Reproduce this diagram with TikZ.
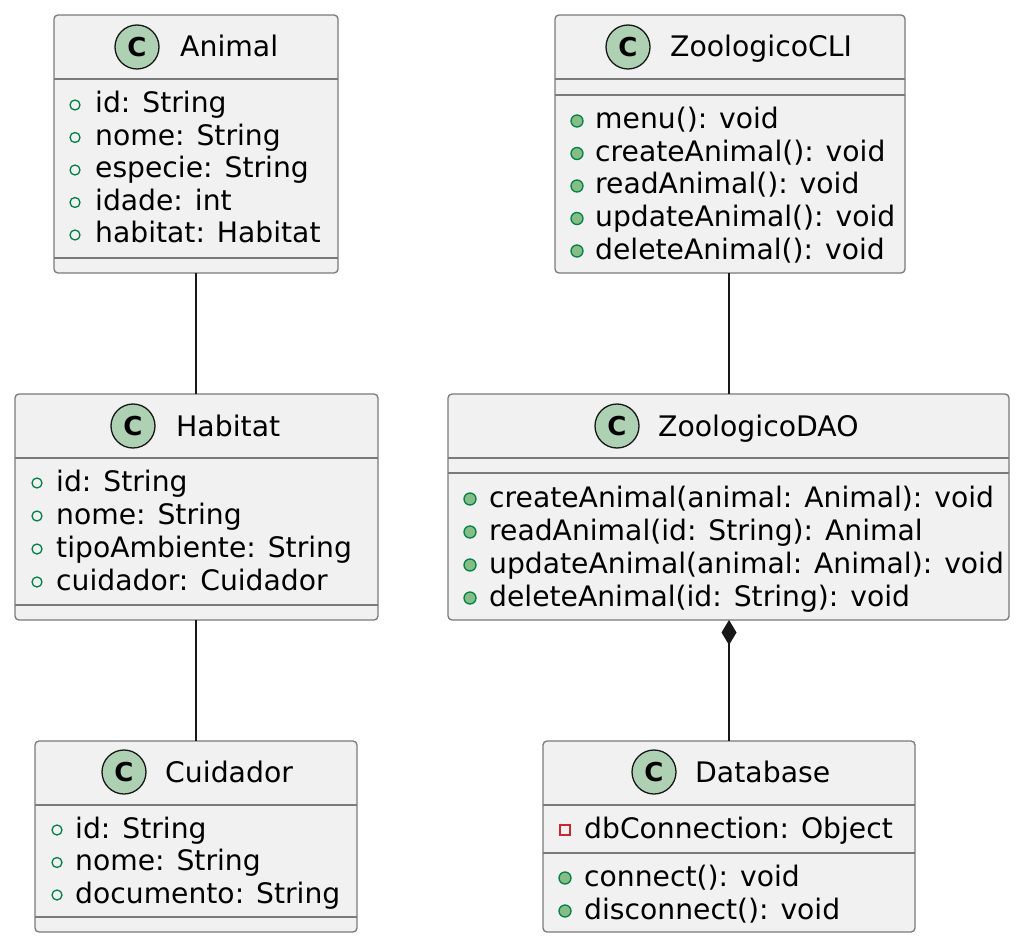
\documentclass[tikz,border=0pt]{standalone}
\usepackage{fontspec}
\setmainfont{DejaVu Sans}
\usetikzlibrary{arrows.meta}
\definecolor{boxfill}{HTML}{F1F1F1}
\definecolor{boxline}{HTML}{7A7A7A}
\definecolor{cfill}{HTML}{ADD1B2}
\definecolor{dark}{HTML}{181818}
\definecolor{pubgreen}{HTML}{038048}
\definecolor{methfill}{HTML}{84BE84}
\definecolor{privred}{HTML}{C82930}
\tikzset{
 classbox/.style={draw=boxline, fill=boxfill, line width=1.3pt, rounded corners=4pt, anchor=north west, inner sep=0pt, outer sep=0pt},
 divider/.style={draw=boxline, line width=1.3pt},
 cicon/.style={circle, draw=dark, fill=cfill, line width=1.3pt, minimum size=44pt, inner sep=0pt, font=\fontsize{26}{26}\selectfont\bfseries},
 title/.style={anchor=base west, inner sep=0pt, font=\fontsize{28.3}{33}\selectfont},
 member/.style={anchor=base west, inner sep=0pt, font=\fontsize{28.2}{33}\selectfont},
 pubfield/.style={circle, draw=pubgreen, line width=1.3pt, minimum size=10pt, inner sep=0pt},
 pubmeth/.style={circle, draw=pubgreen, fill=methfill, line width=1.3pt, minimum size=12pt, inner sep=0pt},
 privfield/.style={rectangle, draw=privred, line width=1.3pt, minimum size=10pt, inner sep=0pt},
 link/.style={draw=dark, line width=1.6pt},
}
\begin{document}
\begin{tikzpicture}[x=1pt,y=-1pt]
\useasboundingbox[fill=white] (0,0) rectangle (1020,944);

% ---------- Animal ----------
\node[classbox, minimum width=284pt, minimum height=258pt] (animal) at (54,15) {};
\draw[divider] (54,79) -- (338,79);
\draw[divider] (54,258) -- (338,258);
\node[cicon] (animalC) at (137,47) {C};
\node[title] (animalT) at (180,57) {Animal};
\foreach \t [count=\i] in {{id: String},{nome: String},{especie: String},{idade: int},{habitat: Habitat}}{
  \node[pubfield] (animalm\i) at (75,{103+32.5*(\i-1)+2}) {};
  \node[member] (animalt\i) at (95,{103+32.5*(\i-1)+10}) {\t};
}

% ---------- ZoologicoCLI ----------
\node[classbox, minimum width=350pt, minimum height=258pt] (cli) at (555,15) {};
\draw[divider] (555,79) -- (905,79);
\draw[divider] (555,95) -- (905,95);
\node[cicon] (cliC) at (628,47) {C};
\node[title] (cliT) at (670,57) {ZoologicoCLI};
\foreach \t [count=\i] in {{menu(): void},{createAnimal(): void},{readAnimal(): void},{updateAnimal(): void},{deleteAnimal(): void}}{
  \node[pubmeth] (clim\i) at (577,{119+32.5*(\i-1)+2}) {};
  \node[member] (clit\i) at (595,{119+32.5*(\i-1)+10}) {\t};
}

% ---------- Habitat ----------
\node[classbox, minimum width=363pt, minimum height=226pt] (habitat) at (15,394) {};
\draw[divider] (15,458) -- (378,458);
\draw[divider] (15,605) -- (378,605);
\node[cicon] (habitatC) at (133,426) {C};
\node[title] (habitatT) at (176,436) {Habitat};
\foreach \t [count=\i] in {{id: String},{nome: String},{tipoAmbiente: String},{cuidador: Cuidador}}{
  \node[pubfield] (habitatm\i) at (37,{481+33*(\i-1)+2}) {};
  \node[member] (habitatt\i) at (56,{481+33*(\i-1)+10}) {\t};
}

% ---------- ZoologicoDAO ----------
\node[classbox, minimum width=561pt, minimum height=226pt] (dao) at (448,394) {};
\draw[divider] (448,458) -- (1009,458);
\draw[divider] (448,473) -- (1009,473);
\node[cicon] (daoC) at (617,426) {C};
\node[title] (daoT) at (658,436) {ZoologicoDAO};
\foreach \t [count=\i] in {{createAnimal(animal: Animal): void},{readAnimal(id: String): Animal},{updateAnimal(animal: Animal): void},{deleteAnimal(id: String): void}}{
  \node[pubmeth] (daom\i) at (470,{497+33*(\i-1)+2}) {};
  \node[member] (daot\i) at (489,{497+33*(\i-1)+10}) {\t};
}

% ---------- Cuidador ----------
\node[classbox, minimum width=322pt, minimum height=191pt] (cuidador) at (35,741) {};
\draw[divider] (35,805) -- (357,805);
\draw[divider] (35,917) -- (357,917);
\node[cicon] (cuidadorC) at (124,772) {C};
\node[title] (cuidadorT) at (165,782) {Cuidador};
\foreach \t [count=\i] in {{id: String},{nome: String},{documento: String}}{
  \node[pubfield] (cuidadorm\i) at (57,{828+32.5*(\i-1)+2}) {};
  \node[member] (cuidadort\i) at (75,{828+32.5*(\i-1)+10}) {\t};
}

% ---------- Database ----------
\node[classbox, minimum width=372pt, minimum height=191pt] (database) at (543,741) {};
\draw[divider] (543,805) -- (915,805);
\draw[divider] (543,853) -- (915,853);
\node[cicon] (databaseC) at (654,772) {C};
\node[title] (databaseT) at (695,782) {Database};
\node[privfield] (dbm1) at (565,830) {};
\node[member] (dbt1) at (584,838) {dbConnection: Object};
\node[pubmeth] (dbm2) at (565,878) {};
\node[member] (dbt2) at (584,886) {connect(): void};
\node[pubmeth] (dbm3) at (565,911) {};
\node[member] (dbt3) at (584,919) {disconnect(): void};

% ---------- connectors ----------
\draw[link] (animal.south) -- (animal.south |- habitat.north);
\draw[link] (habitat.south -| cuidador.north) -- (cuidador.north);
\draw[link] (cli.south -| database.north) -- (database.north |- dao.north);
\draw[link, {Diamond[length=25pt,width=15pt,fill=dark]}-] (database.north |- dao.south) -- (database.north);
\end{tikzpicture}
\end{document}
